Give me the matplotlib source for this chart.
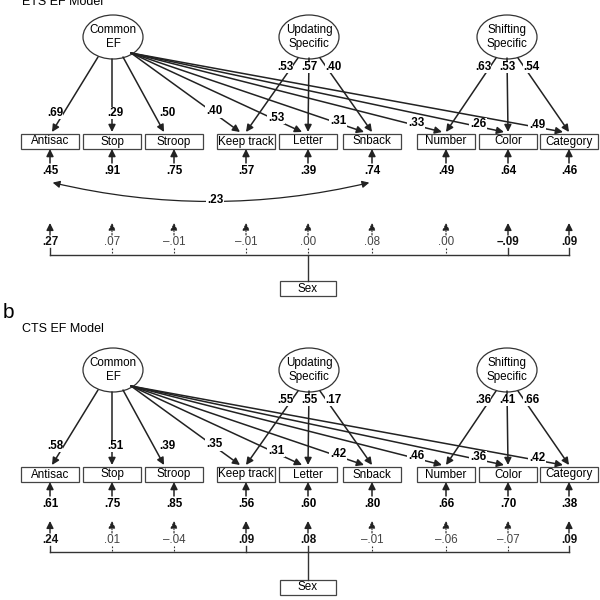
import matplotlib
matplotlib.use("Agg")
import matplotlib.pyplot as plt
from matplotlib.patches import Ellipse, Rectangle, FancyArrowPatch

plt.rcParams["font.family"] = "Liberation Sans"

tasks = ["Antisac", "Stop", "Stroop", "Keep track", "Letter", "Snback", "Number", "Color", "Category"]
factors = ["Common\nEF", "Updating\nSpecific", "Shifting\nSpecific"]

common_a = [".69", ".29", ".50", ".40", ".53", ".31", ".33", ".26", ".49"]
upd_a = [".53", ".57", ".40"]
shift_a = [".63", ".53", ".54"]
resid_a = [".45", ".91", ".75", ".57", ".39", ".74", ".49", ".64", ".46"]
sex_a = [".27", ".07", "\u2013.01", "\u2013.01", ".00", ".08", ".00", "\u2013.09", ".09"]
sig_a = [True, False, False, False, False, False, False, True, True]
corr_a = ".23"

common_b = [".58", ".51", ".39", ".35", ".31", ".42", ".46", ".36", ".42"]
upd_b = [".55", ".55", ".17"]
shift_b = [".36", ".41", ".66"]
resid_b = [".61", ".75", ".85", ".56", ".60", ".80", ".66", ".70", ".38"]
sex_b = [".24", ".01", "\u2013.04", ".09", ".08", "\u2013.01", "\u2013.06", "\u2013.07", ".09"]
sig_b = [True, False, False, True, True, False, False, False, True]

BX = [50, 112, 174, 246, 308, 372, 446, 508, 569]
FX = [113, 309, 507]

fig = plt.figure(figsize=(6, 6), dpi=100)
ax = fig.add_axes([0, 0, 1, 1])
ax.set_xlim(0, 600)
ax.set_ylim(600, 0)
ax.axis("off")
FS = 8.4

def arrow(x0, y0, x1, y1, ls="-", lw=1.1):
    ax.add_patch(FancyArrowPatch((x0, y0), (x1, y1), arrowstyle="-|>,head_length=3,head_width=1.5",
                                 lw=lw, ls=ls, color="#222", shrinkA=0, shrinkB=0, mutation_scale=1.4))

def panel(y0, common, upd, shift, resid, sex, sig, corr, ylab, yline, ysex):
    ey = y0
    by = y0 + 104
    top = by - 7
    for fx, name in zip(FX, factors):
        ax.add_patch(Ellipse((fx, ey), 60, 44, fill=False, lw=0.9, color="#333"))
        ax.text(fx, ey, name, ha="center", va="center", fontsize=FS, linespacing=1.3)
    for x, t in zip(BX, tasks):
        ax.add_patch(Rectangle((x - 29, by - 7), 58, 15, fill=False, lw=0.9, color="#444"))
        ax.text(x, by + 0.5, t, ha="center", va="center", fontsize=FS)
    starts = [(98, ey + 20), (112, ey + 22), (123, ey + 20)] + [(131, ey + 16)] * 6
    ends = [BX[0] + 2, BX[1], BX[2] - 10, BX[3] - 6, BX[4] - 6, BX[5] - 8, BX[6] - 4, BX[7] - 4, BX[8] - 6]
    for i, v in enumerate(common):
        sx, sy = starts[i]
        exx, eyy = ends[i], top - 2
        arrow(sx, sy, exx, eyy)
        if i < 3:
            ax.text(exx + 3, top - 21, v, ha="center", va="center",
                    fontsize=FS, fontweight="bold", bbox=dict(fc="white", ec="none", pad=0.2))
        else:
            t = 1 - 26 / (exx - sx)
            lx, lyy = sx + t * (exx - sx), sy + t * (eyy - sy)
            ax.text(lx, lyy - 2, v, ha="center", va="center", fontsize=FS, fontweight="bold",
                    bbox=dict(fc="white", ec="none", pad=0.3))
    for fx, vals, idx in [(FX[1], upd, [3, 4, 5]), (FX[2], shift, [6, 7, 8])]:
        for k, (v, j) in enumerate(zip(vals, idx)):
            sx = fx + (k - 1) * 11
            arrow(sx, ey + 21, BX[j], top - 2)
            ax.text(fx + (k - 1) * 24, ey + 30, v, ha="center", va="center", fontsize=FS,
                    fontweight="bold", bbox=dict(fc="white", ec="none", pad=0.2))
    for x, v in zip(BX, resid):
        arrow(x, by + 22, x, by + 8)
        ax.text(x, by + 30, v, ha="center", va="center", fontsize=FS, fontweight="bold")
    if corr:
        ax.add_patch(FancyArrowPatch((BX[0], by + 41), (BX[5], by + 41), connectionstyle="arc3,rad=0.12",
                                     arrowstyle="<|-|>,head_length=3,head_width=1.5", mutation_scale=1.4,
                                     lw=0.9, color="#222"))
        ax.text(215, by + 59, corr, ha="center", va="center", fontsize=FS, fontweight="bold",
                bbox=dict(fc="white", ec="none", pad=0.5))
    for x, v, s in zip(BX, sex, sig):
        ls = "-" if s else (0, (1.5, 1.5))
        arrow(x, ylab - 7, x, ylab - 19, ls=ls, lw=1.0 if s else 0.8)
        ax.text(x, ylab, v, ha="center", va="center", fontsize=FS, fontweight="bold" if s else "normal",
                color="#111" if s else "#444")
        ax.plot([x, x], [ylab + 6, yline], color="#333", lw=1.0 if s else 0.8, ls=ls)
    ax.plot([BX[0], BX[-1]], [yline, yline], color="#333", lw=1.0)
    ax.plot([308, 308], [yline, ysex - 7], color="#333", lw=1.0)
    ax.add_patch(Rectangle((280, ysex - 7), 56, 15, fill=False, lw=0.9, color="#444"))
    ax.text(308, ysex + 0.5, "Sex", ha="center", va="center", fontsize=FS)

ax.text(22, 2, "ETS EF Model", ha="left", va="center", fontsize=9)
panel(37, common_a, upd_a, shift_a, resid_a, sex_a, sig_a, corr_a, 242, 255, 288)
ax.text(3, 312, "b", ha="left", va="center", fontsize=15)
ax.text(22, 329, "CTS EF Model", ha="left", va="center", fontsize=9)
panel(370, common_b, upd_b, shift_b, resid_b, sex_b, sig_b, None, 540, 552, 587)

fig.savefig("out.png", dpi=100, facecolor="white")
